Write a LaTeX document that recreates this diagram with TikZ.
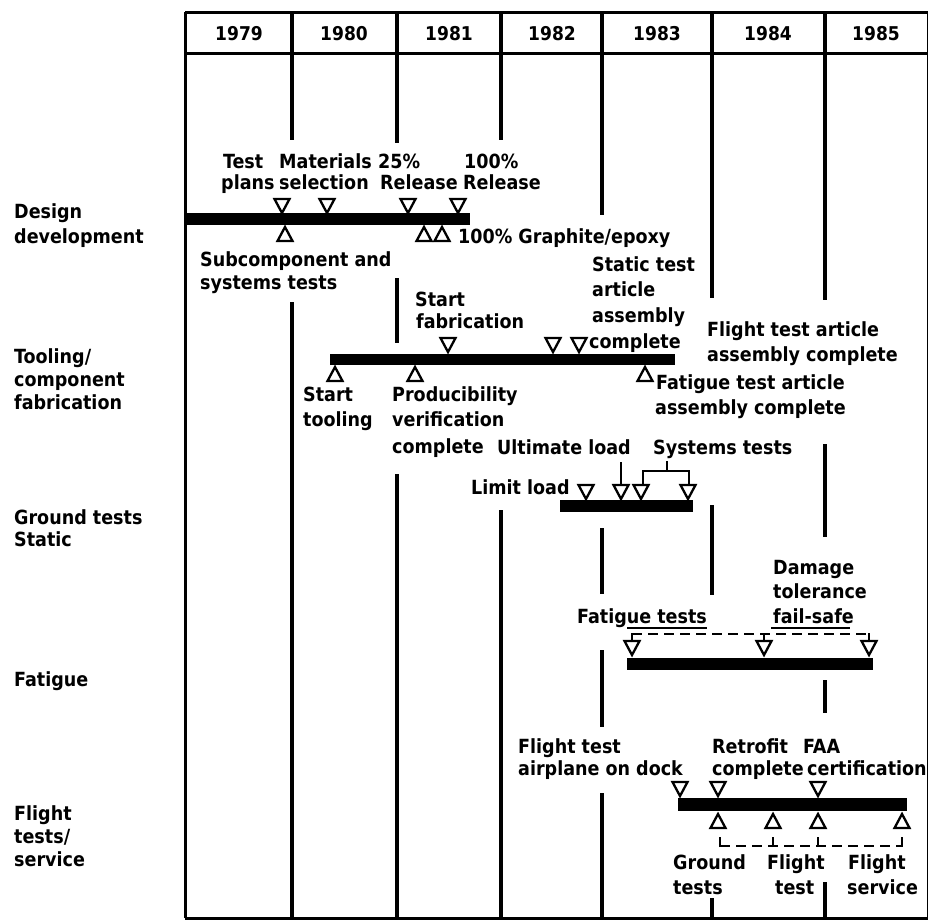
\documentclass[tikz,border=0pt]{standalone}
\usepackage{fontspec}
\setmainfont{DejaVu Sans Condensed}
\newcommand\mkdn[2]{\draw[tri] (#1,#2) -- ++(-7.5,-14) -- ++(15,0) -- cycle;}
\newcommand\mkup[2]{\draw[tri] (#1,#2) -- ++(-7.5,14) -- ++(15,0) -- cycle;}
\begin{document}
\begin{tikzpicture}[x=1pt,y=-1pt,
  lbl/.style={font=\bfseries\fontsize{19.5}{23}\selectfont, inner sep=0pt, anchor=base west},
  yr/.style={font=\bfseries\fontsize{19}{22}\selectfont, inner sep=0pt, anchor=base},
  divider/.style={line width=4pt},
  frame/.style={line width=3pt},
  thinframe/.style={line width=0.8pt},
  bar/.style={fill=black},
  tri/.style={line width=2.3pt, line join=miter},
  brk/.style={line width=1.8pt},
  dbrk/.style={line width=1.8pt, dash pattern=on 10pt off 6pt},
  uline/.style={line width=1.5pt}]
\useasboundingbox (0,0) rectangle (928,922);
\fill[white] (0,0) rectangle (928,922);

% frame
\draw[frame] (185,12) -- (928,12);
\draw[frame] (185,53) -- (928,53);
\draw[frame] (185,918) -- (928,918);
\draw[frame] (185,12) -- (185,918);
\draw[thinframe] (927,12) -- (927,918);

% year labels
\node[yr] (y79) at (239,40) {1979};
\node[yr] (y80) at (344,40) {1980};
\node[yr] (y81) at (449,40) {1981};
\node[yr] (y82) at (552,40) {1982};
\node[yr] (y83) at (657,40) {1983};
\node[yr] (y84) at (768,40) {1984};
\node[yr] (y85) at (876,40) {1985};

% dividers (broken where text and bars are)
\draw[divider] (292,12) -- (292,140);
\draw[divider] (292,302) -- (292,918);
\draw[divider] (397,12) -- (397,143);
\draw[divider] (397,278) -- (397,343);
\draw[divider] (397,474) -- (397,918);
\draw[divider] (501,12) -- (501,140);
\draw[divider] (501,510) -- (501,918);
\draw[divider] (602,12) -- (602,215);
\draw[divider] (602,528) -- (602,594);
\draw[divider] (602,650) -- (602,727);
\draw[divider] (602,793) -- (602,918);
\draw[divider] (712,12) -- (712,298);
\draw[divider] (712,505) -- (712,595);
\draw[divider] (712,898) -- (712,918);
\draw[divider] (825,12) -- (825,300);
\draw[divider] (825,444) -- (825,537);
\draw[divider] (825,680) -- (825,713);
\draw[divider] (825,882) -- (825,918);

% row labels
\node[lbl] (rDa) at (14,218.5) {Design};
\node[lbl] (rDb) at (14,243.5) {development};
\node[lbl] (rTa) at (14,363.5) {Tooling/};
\node[lbl] (rTb) at (14,386.5) {component};
\node[lbl] (rTc) at (14,409.5) {fabrication};
\node[lbl] (rGa) at (14,524.5) {Ground tests};
\node[lbl] (rGb) at (14,546.5) {Static};
\node[lbl] (rF) at (14,686.5) {Fatigue};
\node[lbl] (rLa) at (14,820.5) {Flight};
\node[lbl] (rLb) at (14,843.5) {tests/};
\node[lbl] (rLc) at (14,866.5) {service};

% ---------------- Design development
\fill[bar] (185,213) rectangle (470,225);
\mkdn{282}{213}\mkdn{327}{213}\mkdn{408}{213}\mkdn{458}{213}
\mkup{285}{227}\mkup{424}{227}\mkup{442}{227}
\node[lbl] (tA1) at (223,168.5) {Test};
\node[lbl] (tA2) at (221,189.5) {plans};
\node[lbl] (tB1) at (279,168.5) {Materials};
\node[lbl] (tB2) at (279,189.5) {selection};
\node[lbl] (tC1) at (378,168.5) {25\%};
\node[lbl] (tC2) at (380,189.5) {Release};
\node[lbl] (tD1) at (464,168.5) {100\%};
\node[lbl] (tD2) at (463,189.5) {Release};
\node[lbl] (tE1) at (200,266.5) {Subcomponent and};
\node[lbl] (tE2) at (200,289.5) {systems tests};
\node[lbl] (tF) at (458,243.5) {100\% Graphite/epoxy};

% ---------------- Tooling / component fabrication
\fill[bar] (330,354) rectangle (675,365);
\mkdn{448}{352}\mkdn{553}{352}\mkdn{579}{352}
\mkup{335}{367}\mkup{415}{367}\mkup{645}{367}
\node[lbl] (sF1) at (415,306.5) {Start};
\node[lbl] (sF2) at (416,328.5) {fabrication};
\node[lbl] (sS1) at (592,271.5) {Static test};
\node[lbl] (sS2) at (592,296.5) {article};
\node[lbl] (sS3) at (592,322.5) {assembly};
\node[lbl] (sS4) at (589,348) {complete};
\node[lbl] (sL1) at (707,336.5) {Flight test article};
\node[lbl] (sL2) at (707,361.5) {assembly complete};
\node[lbl] (sG1) at (656,389.5) {Fatigue test article};
\node[lbl] (sG2) at (655,414.5) {assembly complete};
\node[lbl] (sT1) at (303,401.5) {Start};
\node[lbl] (sT2) at (303,426.5) {tooling};
\node[lbl] (sP1) at (392,401.5) {Producibility};
\node[lbl] (sP2) at (392,426.5) {verification};
\node[lbl] (sP3) at (392,453.5) {complete};

% ---------------- Ground tests static
\fill[bar] (560,500) rectangle (693,512);
\mkdn{586}{499}\mkdn{621}{499}\mkdn{641}{499}\mkdn{688}{499}
\node[lbl] (gU) at (497,454) {Ultimate load};
\node[lbl] (gS) at (653,454) {Systems tests};
\node[lbl] (gL) at (471,494.5) {Limit load};
\coordinate (uTop) at (621,462);
\coordinate (uBot) at (621,485);
\draw[brk] (uTop) -- (uBot);
\coordinate (sL) at (643,484);
\coordinate (sR) at (689,484);
\coordinate (sM) at (667,461);
\draw[brk] (sL) -- (643,471) -- (689,471) -- (sR);
\draw[brk] (667,471) -- (sM);

% ---------------- Fatigue
\fill[bar] (627,658) rectangle (873,670);
\mkdn{632}{655}\mkdn{764}{655}\mkdn{869}{655}
\node[lbl] (fT) at (577,623.5) {Fatigue tests};
\node[lbl] (fD1) at (773,574.5) {Damage};
\node[lbl] (fD2) at (773,598.5) {tolerance};
\node[lbl] (fD3) at (773,623.5) {fail-safe};
\draw[uline] (627,628) -- (707,628);
\draw[uline] (771,628) -- (850,628);
\coordinate (fbL) at (632,642);
\coordinate (fbM) at (764,642);
\coordinate (fbR) at (869,642);
\draw[dbrk] (632,634) -- (869,634);
\draw[brk] (fbL) -- (632,633);
\draw[brk] (fbM) -- (764,633);
\draw[brk] (fbR) -- (869,633);

% ---------------- Flight tests / service
\fill[bar] (678,798) rectangle (907,811);
\mkdn{680}{796}\mkdn{718}{796}\mkdn{818}{796}
\mkup{718}{814}\mkup{773}{814}\mkup{818}{814}\mkup{902}{814}
\node[lbl] (lA1) at (518,753.5) {Flight test};
\node[lbl] (lA2) at (518,775.5) {airplane on dock};
\node[lbl] (lR1) at (712,753.5) {Retrofit};
\node[lbl] (lR2) at (712,775.5) {complete};
\node[lbl] (lC1) at (803,753.5) {FAA};
\node[lbl] (lC2) at (807,775.5) {certification};
\node[lbl] (lG1) at (673,869.5) {Ground};
\node[lbl] (lG2) at (673,894) {tests};
\node[lbl] (lF1) at (767,869.5) {Flight};
\node[lbl] (lF2) at (775,894) {test};
\node[lbl] (lS1) at (848,869.5) {Flight};
\node[lbl] (lS2) at (847,894) {service};
\draw[dbrk] (720,846) -- (902,846);
\coordinate (bA) at (720,837);
\coordinate (bB) at (773,837);
\coordinate (bC) at (818,837);
\coordinate (bD) at (902,837);
\draw[brk] (720,847) -- (bA);
\draw[brk] (773,847) -- (bB);
\draw[brk] (818,847) -- (bC);
\draw[brk] (902,847) -- (bD);
\end{tikzpicture}
\end{document}
